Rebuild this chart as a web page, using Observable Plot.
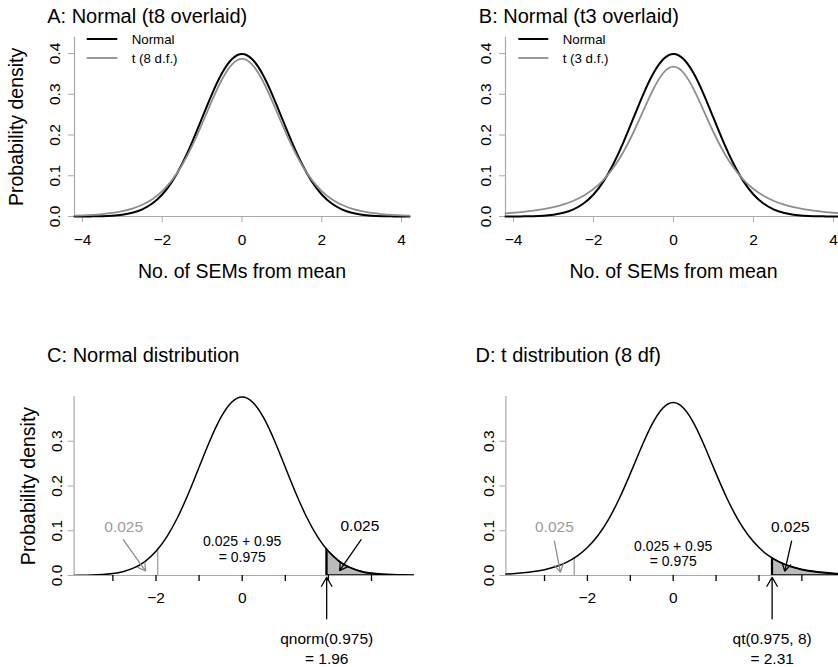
<!DOCTYPE html>
<html><head><meta charset="utf-8">
<script src="https://cdn.jsdelivr.net/npm/d3@7"></script>
<script src="https://cdn.jsdelivr.net/npm/@observablehq/plot@0.6"></script>
<style>
body{margin:0;background:#fff;}
#chart{position:relative;width:838px;height:667px;overflow:hidden;background:#fff;font-family:"Liberation Sans",Arial,sans-serif;}
.panel{position:absolute;overflow:visible;}
#legend{position:absolute;left:0;top:0;pointer-events:none;}
</style></head><body><div id="chart"></div>
<script>
// ---------- data ----------
const xGrid = [-4.2,-4,-3.75,-3.5,-3.25,-3,-2.75,-2.5,-2.25,-2,-1.75,-1.5,-1.25,-1,-0.75,-0.5,-0.25,0,0.25,0.5,0.75,1,1.25,1.5,1.75,2,2.25,2.5,2.75,3,3.25,3.5,3.75,4,4.2];
const normalDensity = [0.00006,0.00013,0.00035,0.00087,0.00203,0.00443,0.00909,0.01753,0.03174,0.05399,0.08628,0.12952,0.18265,0.24197,0.30114,0.35207,0.38667,0.39894,0.38667,0.35207,0.30114,0.24197,0.18265,0.12952,0.08628,0.05399,0.03174,0.01753,0.00909,0.00443,0.00203,0.00087,0.00035,0.00013,0.00006];
const t8Density = [0.00205,0.00276,0.00403,0.00592,0.00876,0.01301,0.01936,0.02877,0.04257,0.06236,0.08994,0.12677,0.17327,0.22762,0.28482,0.33670,0.37339,0.38670,0.37339,0.33670,0.28482,0.22762,0.17327,0.12677,0.08994,0.06236,0.04257,0.02877,0.01936,0.01301,0.00876,0.00592,0.00403,0.00276,0.00205];
const t3Density = [0.00777,0.00916,0.01136,0.01422,0.01798,0.02297,0.02965,0.03866,0.05089,0.06751,0.09000,0.12002,0.15891,0.20675,0.26065,0.31318,0.35271,0.36755,0.35271,0.31318,0.26065,0.20675,0.15891,0.12002,0.09000,0.06751,0.05089,0.03866,0.02965,0.02297,0.01798,0.01422,0.01136,0.00916,0.00777];

const tailNormalX = [1.96,2,2.25,2.5,2.75,3,3.25,3.5,3.75,4];
const tailNormalY = [0.05844,0.05399,0.03174,0.01753,0.00909,0.00443,0.00203,0.00087,0.00035,0.00013];
const tailT8X = [2.306,2.5,2.75,3,3.25,3.5,3.75,4,4.2];
const tailT8Y = [0.03903,0.02877,0.01936,0.01301,0.00876,0.00592,0.00403,0.00276,0.00205];

const lowerCutNormal = [{x:-1.96, y:0.05844}];
const upperCutNormal = [{x:1.96, y:0.05844}];
const lowerCutT8 = [{x:-2.306, y:0.03903}];
const upperCutT8 = [{x:2.306, y:0.03903}];

const titles = ["A: Normal (t8 overlaid)", "B: Normal (t3 overlaid)", "C: Normal distribution", "D: t distribution (8 df)"];
const xAxisLabel = "No. of SEMs from mean";
const yAxisLabel = "Probability density";
const legendA = ["Normal", "t (8 d.f.)"];
const legendB = ["Normal", "t (3 d.f.)"];

const xTicksTop = [-4,-2,0,2,4];
const yTicksTop = [0,0.1,0.2,0.3,0.4];
const xTicksBottom = [-3,-2,-1,0,1,2,3];
const xTickLabelsBottom = ["", "\u22122", "", "0", "", "", ""];
const yTicksBottom = [0,0.1,0.2,0.3];

const xDomainTop = [-4.2, 4.2];
const yDomainTop = [0, 0.44];
const xDomainBottom = [-3.9, 4];
const yDomainBottom = [0, 0.4];

// annotations
const annotC = {
  grayLabel: [{x:-2.75, y:0.109, text:"0.025"}],
  grayArrow: [{x1:-2.76, y1:0.080, x2:-2.24, y2:0.010}],
  blackLabel: [{x:2.73, y:0.110, text:"0.025"}],
  blackArrow: [{x1:2.76, y1:0.080, x2:2.26, y2:0.011}],
  middle: [{x:0, y:0.0766, text:"0.025 + 0.95"}, {x:0, y:0.0409, text:"= 0.975"}],
  upArrow: [{x1:1.96, y1:-0.0967, x2:1.96, y2:-0.004}],
  quantile: [{x:1.96, y:-0.1414, text:"qnorm(0.975)"}, {x:1.96, y:-0.186, text:"= 1.96"}]
};
const annotD = {
  grayLabel: [{x:-2.77, y:0.108, text:"0.025"}],
  grayArrow: [{x1:-2.77, y1:0.0766, x2:-2.63, y2:0.0074}],
  blackLabel: [{x:2.73, y:0.108, text:"0.025"}],
  blackArrow: [{x1:2.76, y1:0.0766, x2:2.60, y2:0.0096}],
  middle: [{x:0, y:0.0654, text:"0.025 + 0.95"}, {x:0, y:0.0319, text:"= 0.975"}],
  upArrow: [{x1:2.306, y1:-0.0967, x2:2.306, y2:-0.004}],
  quantile: [{x:2.306, y:-0.1414, text:"qt(0.975, 8)"}, {x:2.306, y:-0.186, text:"= 2.31"}]
};

// ---------- styling ----------
const axisGray = "#a9a9a9";
const curveGray = "#8e8e8e";
const textGray = "#9c9c9c";
const tailFill = "#b9bbbd";
const font = "Liberation Sans";

const table = ys => xGrid.map((x, i) => ({x, y: ys[i]}));
const pairs = (xs, ys) => xs.map((x, i) => ({x, y: ys[i]}));

const chart = document.getElementById("chart");
function place(svg, left, top) {
  const div = document.createElement("div");
  div.className = "panel";
  div.style.left = left + "px";
  div.style.top = top + "px";
  div.appendChild(svg);
  chart.appendChild(div);
}

function topPanel({title, tValues, withYLabel, width, marginLeft, marginRight, titleDx}) {
  return Plot.plot({
    width, height: 333,
    marginLeft, marginRight, marginTop: 36.7, marginBottom: 117,
    x: {domain: xDomainTop},
    y: {domain: yDomainTop},
    style: {fontFamily: font, fontSize: "15.5px", background: "transparent", overflow: "visible", maxWidth: "none"},
    marks: [
      Plot.ruleY([0], {stroke: axisGray, strokeWidth: 1.2}),
      Plot.ruleX([xDomainTop[0]], {stroke: axisGray, strokeWidth: 1.2}),
      Plot.axisX({ticks: xTicksTop, tickSize: 6, tickPadding: 11, stroke: axisGray, fill: "black", tickFormat: d3.format("d"), label: null, fontSize: 15.5}),
      Plot.axisY({ticks: yTicksTop, tickSize: 6, tickPadding: 9, tickRotate: -90, stroke: axisGray, fill: "black", tickFormat: d3.format(".1f"), label: null, fontSize: 15.5}),
      Plot.line(table(normalDensity), {x: "x", y: "y", stroke: "black", strokeWidth: 2, curve: "natural"}),
      Plot.line(table(tValues), {x: "x", y: "y", stroke: curveGray, strokeWidth: 1.8, curve: "natural"}),
      Plot.text([title], {frameAnchor: "top-left", dx: titleDx, dy: -20.9, textAnchor: "start", lineAnchor: "middle", fontSize: 20}),
      Plot.text([xAxisLabel], {frameAnchor: "bottom", dy: 55, textAnchor: "middle", lineAnchor: "middle", fontSize: 19.5}),
      withYLabel ? Plot.text([yAxisLabel], {frameAnchor: "left", dx: -58, rotate: -90, textAnchor: "middle", lineAnchor: "middle", fontSize: 19.5}) : null
    ]
  });
}

function bottomPanel({title, curve, tailX, tailY, lowerCut, upperCut, annot, withYLabel, width, marginLeft, marginRight, titleDx}) {
  return Plot.plot({
    width, height: 333,
    marginLeft, marginRight, marginTop: 62, marginBottom: 92,
    x: {domain: xDomainBottom},
    y: {domain: yDomainBottom},
    style: {fontFamily: font, fontSize: "15.5px", background: "transparent", overflow: "visible", maxWidth: "none"},
    marks: [
      Plot.ruleY([0], {stroke: axisGray, strokeWidth: 1.2}),
      Plot.ruleX([xDomainBottom[0]], {stroke: axisGray, strokeWidth: 1.2}),
      Plot.axisX({ticks: xTicksBottom, tickSize: 6, tickPadding: 10, stroke: "black", strokeWidth: 1.3, fill: "black",
        tickFormat: d => xTickLabelsBottom[xTicksBottom.indexOf(d)], label: null, fontSize: 15.5}),
      Plot.axisY({ticks: yTicksBottom, tickSize: 6, tickPadding: 6, tickRotate: -90, stroke: axisGray, fill: "black", tickFormat: d3.format(".1f"), label: null, fontSize: 15.5}),
      Plot.areaY(pairs(tailX, tailY), {x: "x", y: "y", fill: tailFill, stroke: "black", strokeWidth: 1.5, curve: "natural", clip: true}),
      Plot.ruleX(upperCut, {x: "x", y1: 0, y2: "y", stroke: "black", strokeWidth: 2}),
      Plot.ruleX(lowerCut, {x: "x", y1: 0, y2: "y", stroke: axisGray, strokeWidth: 1.5}),
      Plot.line(table(curve), {x: "x", y: "y", stroke: "black", strokeWidth: 1.5, curve: "natural", clip: true}),
      Plot.text(annot.grayLabel, {x: "x", y: "y", text: "text", fill: textGray, fontSize: 15.5}),
      Plot.arrow(annot.grayArrow, {x1: "x1", y1: "y1", x2: "x2", y2: "y2", stroke: curveGray, strokeWidth: 1.3, headLength: 10}),
      Plot.text(annot.blackLabel, {x: "x", y: "y", text: "text", fill: "black", fontSize: 15.5}),
      Plot.arrow(annot.blackArrow, {x1: "x1", y1: "y1", x2: "x2", y2: "y2", stroke: "black", strokeWidth: 1.3, headLength: 10}),
      Plot.text(annot.middle, {x: "x", y: "y", text: "text", fill: "black", fontSize: 14}),
      Plot.arrow(annot.upArrow, {x1: "x1", y1: "y1", x2: "x2", y2: "y2", stroke: "black", strokeWidth: 1.3, headLength: 12}),
      Plot.text(annot.quantile, {x: "x", y: "y", text: "text", fill: "black", fontSize: 15.5}),
      Plot.text([title], {frameAnchor: "top-left", dx: titleDx, dy: -40.5, textAnchor: "start", lineAnchor: "middle", fontSize: 20}),
      withYLabel ? Plot.text([yAxisLabel], {frameAnchor: "left", dx: -45.2, rotate: -90, textAnchor: "middle", lineAnchor: "middle", fontSize: 19.5}) : null
    ]
  });
}

place(topPanel({title: titles[0], tValues: t8Density, withYLabel: true, width: 419, marginLeft: 74, marginRight: 10, titleDx: -27.3}), 0, 0);
place(topPanel({title: titles[1], tValues: t3Density, withYLabel: false, width: 422, marginLeft: 86, marginRight: 0, titleDx: -26.7}), 419, 0);
place(bottomPanel({title: titles[2], curve: normalDensity, tailX: tailNormalX, tailY: tailNormalY, lowerCut: lowerCutNormal, upperCut: upperCutNormal,
  annot: annotC, withYLabel: true, width: 419, marginLeft: 73.6, marginRight: 4.9, titleDx: -27}), 0, 334);
place(bottomPanel({title: titles[3], curve: t8Density, tailX: tailT8X, tailY: tailT8Y, lowerCut: lowerCutT8, upperCut: upperCutT8,
  annot: annotD, withYLabel: false, width: 425.3, marginLeft: 86.4, marginRight: 0, titleDx: -30.4}), 419, 334);

// ---------- legends (top panels) ----------
const legendSvg = d3.select(chart).append("svg").attr("id", "legend").attr("width", 838).attr("height", 667);
const legendSpecs = [
  {labels: legendA, x0: 86.7, x1: 117.3, tx: 131.7},
  {labels: legendB, x0: 518.3, x1: 548.3, tx: 562.7}
];
const legendColors = ["black", curveGray];
const legendWidths = [2, 1.8];
const legendRows = [39, 58];
for (const spec of legendSpecs) {
  spec.labels.forEach((lab, i) => {
    legendSvg.append("line").attr("x1", spec.x0).attr("x2", spec.x1).attr("y1", legendRows[i]).attr("y2", legendRows[i])
      .attr("stroke", legendColors[i]).attr("stroke-width", legendWidths[i]);
    legendSvg.append("text").attr("x", spec.tx).attr("y", legendRows[i]).attr("dy", "0.35em")
      .attr("font-family", font).attr("font-size", 13.3).attr("fill", "black").text(lab);
  });
}
</script></body></html>
